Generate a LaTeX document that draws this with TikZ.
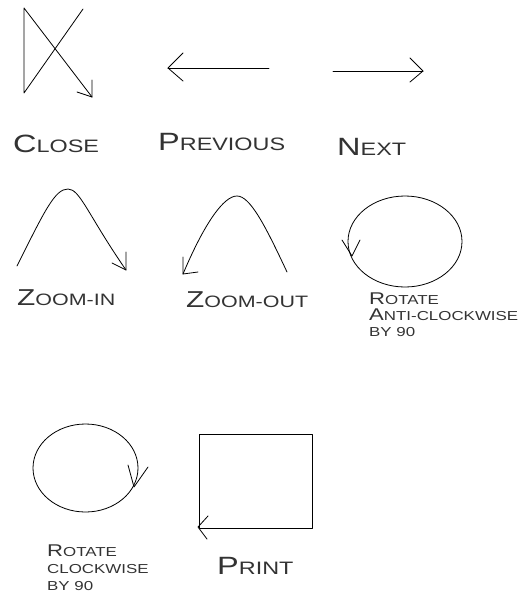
\documentclass[tikz,border=0pt]{standalone}
\usepackage{fontspec}
\newfontfamily\cpfont[FakeStretch=1.3]{Liberation Sans}
\newcommand\CPbig[2]{{\cpfont\fontsize{25}{25}\selectfont#1\fontsize{18}{18}\selectfont#2}}
\newcommand\CPzoom[2]{{\cpfont\fontsize{23}{23}\selectfont#1\fontsize{16.5}{16.5}\selectfont#2}}
\newcommand\CPsmall[2]{{\cpfont\fontsize{17}{17}\selectfont#1\fontsize{13}{13}\selectfont#2}}
\tikzset{
  gesture/.style={draw=black, line width=0.8pt, line join=round, line cap=round},
  lbl/.style={anchor=base west, inner sep=0pt, text=black!80},
}
\begin{document}
\begin{tikzpicture}[x=1pt,y=-1pt]
\useasboundingbox (0,0) rectangle (518,598);
% Close
\draw[gesture] (83,9) -- (24,93) -- (24,8) -- (92,97);
\draw[gesture] (92,80) -- (92,97) -- (77,92);
% Previous
\draw[gesture] (269,68) -- (168,68);
\draw[gesture] (183,53) -- (168,68) -- (183,81);
% Next
\draw[gesture] (333,71) -- (423,71);
\draw[gesture] (410,58) -- (423,71) -- (410,82);
% Zoom-in
\draw[gesture] (17,266) .. controls (45,210) and (55,189) .. (68,189) .. controls (80,189) and (88,215) .. (126,270);
\draw[gesture] (126,252) -- (126,270) -- (112,263);
% Zoom-out
\draw[gesture] (287,272) .. controls (265,225) and (250,196) .. (237,196) .. controls (224,196) and (205,222) .. (183,274);
\draw[gesture] (183,257) -- (183,274) -- (198,272);
% Rotate anticlockwise
\draw[gesture] (405,241.5) ellipse [x radius=57, y radius=45.5];
\draw[gesture] (342,240) -- (352,256) -- (360,240);
% Rotate clockwise
\draw[gesture] (85.5,468) ellipse [x radius=52.5, y radius=44];
\draw[gesture] (128,465) -- (134,487) -- (148,467);
% Print
\draw[gesture] (199,434) rectangle (312,528);
\draw[gesture] (208,516) -- (198,527) -- (207,539);
% Labels
\node[lbl] (lclose) at (13,152) {\CPbig{C}{LOSE}};
\node[lbl] (lprev) at (158,150) {\CPbig{P}{REVIOUS}};
\node[lbl] (lnext) at (337,155) {\CPbig{N}{EXT}};
\node[lbl] (lzin) at (17,305) {\CPzoom{Z}{OOM-IN}};
\node[lbl] (lzout) at (186,307) {\CPzoom{Z}{OOM-OUT}};
\node[lbl] (lrot1) at (369,304) {\CPsmall{R}{OTATE}};
\node[lbl] (lrot2) at (369,320) {\CPsmall{A}{NTI-CLOCKWISE}};
\node[lbl] (lrot3) at (369,336) {\CPsmall{}{BY 90}};
\node[lbl] (lrc1) at (47,556) {\CPsmall{R}{OTATE}};
\node[lbl] (lrc2) at (47,573) {\CPsmall{}{CLOCKWISE}};
\node[lbl] (lrc3) at (47,590) {\CPsmall{}{BY 90}};
\node[lbl] (lprint) at (217,574) {\CPbig{P}{RINT}};
\end{tikzpicture}
\end{document}
